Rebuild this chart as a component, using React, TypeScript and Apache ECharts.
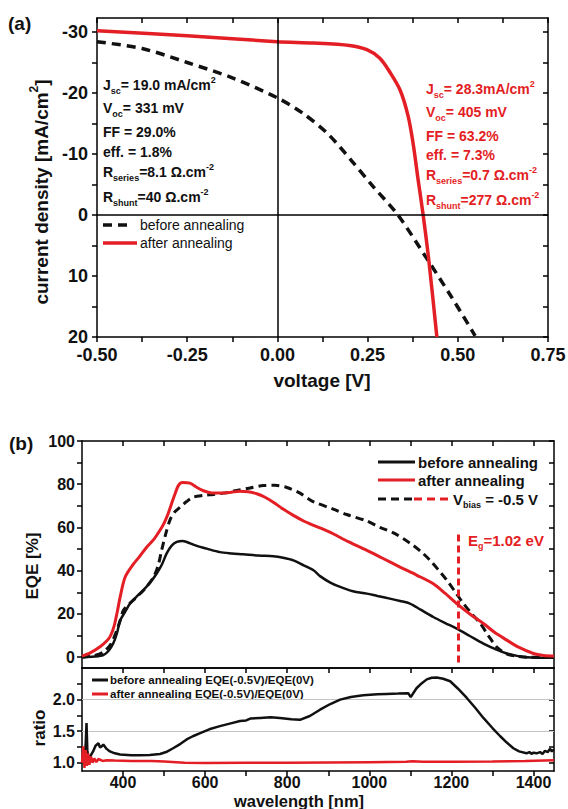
import React, { useEffect, useRef } from 'react';
import * as echarts from 'echarts';

const RED = '#e31e24';
const INK = '#111';
const FONT = "'Liberation Sans', Arial, Helvetica, sans-serif";

// ---- (a) J–V characteristics ----
const jvVoltageBefore = [-0.5, -0.375, -0.25, -0.125, 0, 0.07, 0.14, 0.207, 0.265, 0.334, 0.417, 0.48, 0.548];
const jvCurrentBefore = [-28.4, -27.3, -25.0, -22.5, -19.2, -16.7, -13.3, -8.8, -4.7, 0, 7.4, 13.2, 19.8];
const jvVoltageAfter = [-0.5, -0.25, 0, 0.1, 0.2, 0.248, 0.284, 0.312, 0.34, 0.362, 0.376, 0.39, 0.404, 0.42, 0.442];
const jvCurrentAfter = [-30.2, -29.4, -28.4, -28.2, -27.8, -27.1, -25.7, -23.4, -20.5, -16.3, -11.8, -5.8, 0, 7.6, 20];
const voltageTicks = [-0.5, -0.375, -0.25, -0.125, 0, 0.125, 0.25, 0.375, 0.5, 0.625, 0.75];
const voltageLabels = [-0.5, -0.25, 0, 0.25, 0.5, 0.75];
const currentTicks = [-30, -25, -20, -15, -10, -5, 0, 5, 10, 15, 20];
const currentLabels = [-30, -20, -10, 0, 10, 20];

const statsBefore = [
  '{m|J}{s|sc}{m|= 19.0 mA/cm}{p|2}',
  '{m|V}{s|oc}{m|= 331 mV}',
  '{m|FF = 29.0%}',
  '{m|eff. = 1.8%}',
  '{m|R}{s|series}{m|=8.1 Ω.cm}{p|-2}',
  '{m|R}{s|shunt}{m|=40 Ω.cm}{p|-2}',
];
const statsAfter = [
  '{m|J}{s|sc}{m|= 28.3mA/cm}{p|2}',
  '{m|V}{s|oc}{m|= 405 mV}',
  '{m|FF = 63.2%}',
  '{m|eff. = 7.3%}',
  '{m|R}{s|series}{m|=0.7 Ω.cm}{p|-2}',
  '{m|R}{s|shunt}{m|=277 Ω.cm}{p|-2}',
];
const statsBeforeY = [85, 108, 132, 152, 172, 197];
const statsAfterY = [89, 112, 136, 155, 175, 200];

// ---- (b) EQE spectra ----
const wlBefore = [300, 330, 352, 365, 376, 385, 393, 405, 417, 433, 449, 466, 482, 495, 506, 518, 531, 545, 555, 580, 604, 636, 665, 693, 730, 766, 790, 815, 840, 864, 880, 905, 929, 960, 994, 1020, 1050, 1075, 1099, 1125, 1156, 1185, 1213, 1245, 1278, 1310, 1335, 1360, 1383, 1450];
const eqeBefore = [0, 0.3, 1, 3, 6.3, 11, 17, 21, 24.8, 28, 31, 34.5, 38.7, 43, 47.9, 51.5, 53.3, 53.8, 53.3, 51.5, 50.2, 48.6, 48, 47.6, 47, 46.7, 46, 44.8, 42.5, 40.2, 37.5, 34.5, 32.5, 30.5, 29.4, 28.3, 27.1, 26, 24.8, 22, 18.6, 15.8, 13.2, 9.8, 6.3, 3.5, 1.7, 0.6, 0, -0.3];

const wlAfter = [300, 320, 344, 360, 368, 375, 380, 387, 393, 405, 425, 440, 458, 475, 490, 500, 510, 520, 527, 535, 545, 563, 580, 596, 616, 636, 660, 685, 705, 726, 746, 766, 790, 815, 840, 864, 890, 912, 950, 994, 1030, 1075, 1115, 1156, 1185, 1213, 1245, 1278, 1305, 1335, 1365, 1400, 1425, 1450];
const eqeAfter = [0.5, 2, 4.8, 7.5, 9.4, 12.5, 15.7, 22, 27.9, 37, 43, 46.5, 51, 54.5, 58.7, 62, 66.5, 72, 75.7, 79.5, 80.8, 80.5, 78.5, 77, 76, 75.9, 76.2, 76.8, 76.5, 75.6, 74, 71.7, 68.5, 65.6, 63, 61, 59, 57.1, 53.3, 49.4, 46, 41.7, 38, 34, 29.5, 24.8, 20, 15.6, 11.5, 7.9, 4.5, 1.7, 0.8, 0.5];

const wlBeforeBias = [300, 330, 352, 370, 385, 393, 401, 417, 433, 455, 474, 485, 494, 504, 514, 525, 539, 555, 571, 595, 620, 650, 677, 710, 742, 770, 799, 830, 863, 912, 945, 994, 1026, 1059, 1099, 1125, 1148, 1170, 1189, 1210, 1229, 1250, 1270, 1290, 1311, 1335, 1359, 1390, 1450];
const eqeBeforeBias = [0, 0.8, 2.4, 6, 12.5, 17, 21.7, 25, 27.8, 32, 37, 42, 49.4, 57, 63.3, 67, 69.4, 72, 74, 74.8, 75.3, 76, 77.1, 78.3, 79.4, 79.5, 78.5, 76, 72, 68.5, 66, 63, 60, 57.5, 52.8, 49, 44.8, 40, 35.6, 30, 24.9, 20, 15.7, 10, 4.6, 1.5, 0.5, 0, 0];

const EG_EV = 1.02;
const eqeTicks = [0, 10, 20, 30, 40, 50, 60, 70, 80, 90, 100];
const eqeLabels = [0, 20, 40, 60, 80, 100];

// ---- (b) bias ratio ----
const wlRatioBefore = [300, 305, 309, 311, 313, 316, 320, 327, 333, 340, 344, 348, 352, 360, 368, 380, 393, 420, 441, 465, 490, 505, 522, 540, 555, 570, 588, 610, 636, 660, 685, 700, 710, 734, 760, 782, 810, 831, 855, 880, 905, 929, 955, 985, 1020, 1042, 1070, 1095, 1101, 1107, 1115, 1128, 1140, 1152, 1164, 1180, 1197, 1215, 1237, 1258, 1278, 1300, 1319, 1335, 1351, 1365, 1383, 1390, 1395, 1400, 1408, 1416, 1422, 1428, 1435, 1440, 1445, 1450];
const ratioBefore = [1.0, 1.02, 1.3, 1.63, 1.2, 1.05, 1.1, 1.18, 1.27, 1.31, 1.24, 1.26, 1.29, 1.22, 1.18, 1.15, 1.13, 1.12, 1.12, 1.125, 1.14, 1.17, 1.23, 1.3, 1.37, 1.42, 1.47, 1.53, 1.58, 1.62, 1.66, 1.67, 1.7, 1.71, 1.72, 1.71, 1.69, 1.68, 1.74, 1.84, 1.93, 2.0, 2.04, 2.07, 2.085, 2.09, 2.095, 2.1, 2.04, 2.1, 2.18, 2.26, 2.32, 2.345, 2.35, 2.33, 2.29, 2.18, 2.03, 1.87, 1.71, 1.55, 1.42, 1.32, 1.23, 1.18, 1.15, 1.17, 1.14, 1.16, 1.15, 1.17, 1.14, 1.19, 1.17, 1.22, 1.18, 1.21];
const wlRatioAfter = [300, 303, 306, 309, 312, 315, 318, 322, 326, 330, 335, 340, 350, 361, 380, 420, 470, 500, 550, 600, 700, 800, 900, 1000, 1090, 1105, 1130, 1200, 1300, 1380, 1450];
const ratioAfter = [1.0, 1.26, 0.92, 1.2, 0.95, 1.15, 0.97, 1.1, 1.0, 1.07, 1.01, 1.06, 1.03, 1.04, 1.035, 1.03, 1.03, 1.02, 1.0, 0.995, 1.0, 1.0, 1.005, 1.01, 1.015, 1.025, 1.015, 1.015, 1.02, 1.03, 1.04];
const ratioTicks = [1.0, 1.25, 1.5, 1.75, 2.0, 2.25];
const ratioLabels = [1.0, 1.5, 2.0];
const ratioGuides = [1.5, 2.0];

const wlTicks = [400, 500, 600, 700, 800, 900, 1000, 1100, 1200, 1300, 1400];
const wlLabels = [400, 600, 800, 1000, 1200, 1400];

const zip = (xs: number[], ys: number[]) => xs.map((x, i) => [x, ys[i]]);

const frameLine = { show: true, onZero: false, lineStyle: { color: '#000', width: 1.5 } };
const tickStyle = { color: '#000', width: 1.5 };

function valueAxis(opts: any) {
  const { gridIndex, min, max, position, ticks, labels, tickInside, fontSize, margin, formatter, inverse } = opts;
  return {
    type: 'value',
    gridIndex,
    min,
    max,
    inverse: !!inverse,
    position,
    axisLine: frameLine,
    axisTick: ticks
      ? { show: true, inside: !!tickInside, length: 5, lineStyle: tickStyle, customValues: ticks }
      : { show: false },
    axisLabel: labels
      ? {
          show: true,
          customValues: labels,
          formatter,
          fontSize,
          fontWeight: 'bold',
          fontFamily: FONT,
          color: INK,
          margin,
        }
      : { show: false },
    splitLine: { show: false },
    minorTick: { show: false },
  };
}

function richText(x: number, y: number, text: string, rich: any, fill: string, align = 'left', rotation = 0) {
  return {
    type: 'text',
    x,
    y,
    rotation,
    silent: true,
    style: {
      text,
      rich,
      fill,
      align,
      verticalAlign: 'middle',
      textAlign: align,
      textVerticalAlign: 'middle',
    },
  };
}

function richSet(color: string, size: number, small: number, lineHeight: number, weight = 'bold') {
  return {
    m: { fontSize: size, fontWeight: weight, fontFamily: FONT, lineHeight, fill: color },
    s: { fontSize: small, fontWeight: weight, fontFamily: FONT, lineHeight: small, verticalAlign: 'bottom', fill: color },
    p: { fontSize: small, fontWeight: weight, fontFamily: FONT, lineHeight: small, verticalAlign: 'top', fill: color },
  };
}

function plainText(x: number, y: number, text: string, size: number, color: string, weight = 'bold', align = 'left', rotation = 0) {
  return {
    type: 'text',
    x,
    y,
    rotation,
    silent: true,
    style: {
      text,
      fill: color,
      fontSize: size,
      fontWeight: weight,
      fontFamily: FONT,
      font: `${weight} ${size}px ${FONT}`,
      align,
      verticalAlign: 'middle',
      textAlign: align,
      textVerticalAlign: 'middle',
    },
  };
}

function seg(x1: number, y1: number, x2: number, y2: number, color: string, width: number, dash?: number[]) {
  return {
    type: 'line',
    silent: true,
    shape: { x1, y1, x2, y2 },
    style: { stroke: color, lineWidth: width, lineDash: dash, lineCap: 'butt' },
  };
}

export default function App() {
  const ref = useRef<HTMLDivElement>(null);

  useEffect(() => {
    if (!ref.current) return;
    const chart = echarts.init(ref.current, undefined, { renderer: 'svg' });
    const egNm = 1239.84 / EG_EV;

    const statBlack = richSet(INK, 14, 9, 20);
    const statRed = richSet(RED, 14, 9, 20);

    const graphics: any[] = [
      plainText(8, 23, '(a)', 19, INK),
      plainText(9, 443, '(b)', 19, INK),
      richText(41, 192, '{m|current density [mA/cm}{p|2}{m|]}', richSet(INK, 19, 12, 26), INK, 'center', Math.PI / 2),
      plainText(322, 380, 'voltage [V]', 19, INK, 'bold', 'center'),
      plainText(32, 566, 'EQE [%]', 17, INK, 'bold', 'center', Math.PI / 2),
      plainText(39, 728, 'ratio', 17, INK, 'bold', 'center', Math.PI / 2),
      plainText(299, 801, 'wavelength [nm]', 16.5, INK, 'bold', 'center'),
      // legend of (a)
      seg(103, 225, 128, 225, INK, 3.5, [9, 6]),
      plainText(140, 225, 'before annealing', 14, INK, 'normal'),
      seg(103, 243, 137, 243, RED, 3.5),
      plainText(140, 243, 'after annealing', 14, INK, 'normal'),
      // legend of (b)
      seg(378, 462, 415, 462, INK, 3),
      plainText(418, 462, 'before annealing', 15, INK),
      seg(378, 480, 415, 480, RED, 3),
      plainText(418, 480, 'after annealing', 15, INK),
      seg(378, 499, 413, 499, INK, 3, [8, 5]),
      seg(414, 499, 450, 499, RED, 3, [8, 5]),
      richText(453, 499, '{m|V}{s|bias}{m| = -0.5 V}', richSet(INK, 15, 9, 20), INK),
      richText(468, 540, `{m|E}{s|g}{m|=${EG_EV.toFixed(2)} eV}`, richSet(RED, 15, 9, 20), RED),
      // legend of the ratio panel
      seg(92, 680, 108, 680, INK, 3),
      plainText(110, 680, 'before annealing EQE(-0.5V)/EQE(0V)', 11.5, INK),
      seg(92, 694, 108, 694, RED, 3),
      plainText(110, 694, 'after annealing EQE(-0.5V)/EQE(0V)', 11.5, INK),
    ];
    statsBefore.forEach((t, i) => graphics.push(richText(103, statsBeforeY[i], t, statBlack, INK)));
    statsAfter.forEach((t, i) => graphics.push(richText(426, statsAfterY[i], t, statRed, RED)));

    const wlMin = 300;
    const wlMax = 1450;

    chart.setOption({
      animation: false,
      backgroundColor: '#fff',
      textStyle: { fontFamily: FONT },
      grid: [
        { left: 97, top: 18, width: 451, height: 319, outerBoundsMode: 'none' },
        { left: 82, top: 441, width: 472, height: 227, outerBoundsMode: 'none' },
        { left: 82, top: 668, width: 472, height: 103, outerBoundsMode: 'none' },
      ],
      xAxis: [
        valueAxis({ gridIndex: 0, min: -0.5, max: 0.75, position: 'bottom', ticks: voltageTicks, labels: voltageLabels, fontSize: 18, margin: 9, formatter: (v: number) => Number(v).toFixed(2) }),
        valueAxis({ gridIndex: 0, min: -0.5, max: 0.75, position: 'top', ticks: voltageTicks, tickInside: true }),
        valueAxis({ gridIndex: 1, min: wlMin, max: wlMax, position: 'bottom' }),
        valueAxis({ gridIndex: 1, min: wlMin, max: wlMax, position: 'top', ticks: wlTicks, tickInside: true }),
        valueAxis({ gridIndex: 2, min: wlMin, max: wlMax, position: 'bottom', ticks: wlTicks, labels: wlLabels, fontSize: 16, margin: 3, formatter: (v: number) => String(v) }),
        valueAxis({ gridIndex: 2, min: wlMin, max: wlMax, position: 'top', ticks: wlTicks, tickInside: true }),
      ],
      yAxis: [
        valueAxis({ gridIndex: 0, min: -32.3, max: 20, inverse: true, position: 'left', ticks: currentTicks, labels: currentLabels, fontSize: 18, margin: 9, formatter: (v: number) => String(v) }),
        valueAxis({ gridIndex: 0, min: -32.3, max: 20, inverse: true, position: 'right', ticks: currentTicks, tickInside: true }),
        valueAxis({ gridIndex: 1, min: -5, max: 100, position: 'left', ticks: eqeTicks, labels: eqeLabels, fontSize: 16, margin: 7, formatter: (v: number) => String(v) }),
        valueAxis({ gridIndex: 1, min: -5, max: 100, position: 'right', ticks: eqeTicks, tickInside: true }),
        valueAxis({ gridIndex: 2, min: 0.87, max: 2.5, position: 'left', ticks: ratioTicks, labels: ratioLabels, fontSize: 16, margin: 7, formatter: (v: number) => Number(v).toFixed(1) }),
        valueAxis({ gridIndex: 2, min: 0.87, max: 2.5, position: 'right', ticks: ratioTicks, tickInside: true }),
      ],
      series: [
        {
          name: 'before annealing',
          type: 'line',
          xAxisIndex: 0,
          yAxisIndex: 0,
          data: zip(jvVoltageBefore, jvCurrentBefore),
          showSymbol: false,
          symbol: 'none',
          smooth: 0.3,
          lineStyle: { color: INK, width: 3.5, type: [9, 6], cap: 'butt' },
          markLine: {
            silent: true,
            symbol: ['none', 'none'],
            label: { show: false },
            lineStyle: { color: '#000', width: 1.5, type: 'solid' },
            data: [{ xAxis: 0 }, { yAxis: 0 }],
          },
          z: 3,
        },
        {
          name: 'after annealing',
          type: 'line',
          xAxisIndex: 0,
          yAxisIndex: 0,
          data: zip(jvVoltageAfter, jvCurrentAfter),
          showSymbol: false,
          symbol: 'none',
          smooth: 0.3,
          lineStyle: { color: RED, width: 3.5 },
          z: 4,
        },
        {
          name: 'EQE before annealing, -0.5 V',
          type: 'line',
          xAxisIndex: 2,
          yAxisIndex: 2,
          data: zip(wlBeforeBias, eqeBeforeBias),
          showSymbol: false,
          symbol: 'none',
          smooth: 0.3,
          lineStyle: { color: INK, width: 3, type: [8, 5] },
          z: 3,
        },
        {
          name: 'EQE before annealing',
          type: 'line',
          xAxisIndex: 2,
          yAxisIndex: 2,
          data: zip(wlBefore, eqeBefore),
          showSymbol: false,
          symbol: 'none',
          smooth: 0.3,
          lineStyle: { color: INK, width: 2.5 },
          z: 3,
        },
        {
          name: 'EQE after annealing',
          type: 'line',
          xAxisIndex: 2,
          yAxisIndex: 2,
          data: zip(wlAfter, eqeAfter),
          showSymbol: false,
          symbol: 'none',
          smooth: 0.3,
          lineStyle: { color: RED, width: 3 },
          markLine: {
            silent: true,
            symbol: ['none', 'none'],
            label: { show: false },
            lineStyle: { color: RED, width: 3, type: [7, 4] },
            data: [[{ coord: [egNm, -2.5] }, { coord: [egNm, 58.5] }]],
          },
          z: 4,
        },
        {
          name: 'ratio before annealing',
          type: 'line',
          xAxisIndex: 4,
          yAxisIndex: 4,
          data: zip(wlRatioBefore, ratioBefore),
          showSymbol: false,
          symbol: 'none',
          lineStyle: { color: INK, width: 2.5 },
          markLine: {
            silent: true,
            symbol: ['none', 'none'],
            label: { show: false },
            lineStyle: { color: '#c4c4c4', width: 1, type: 'solid' },
            data: ratioGuides.map((v) => ({ yAxis: v })),
            z: 1,
          },
          z: 3,
        },
        {
          name: 'ratio after annealing',
          type: 'line',
          xAxisIndex: 4,
          yAxisIndex: 4,
          data: zip(wlRatioAfter, ratioAfter),
          showSymbol: false,
          symbol: 'none',
          lineStyle: { color: RED, width: 2.5 },
          z: 4,
        },
      ],
      graphic: graphics,
    });

    return () => chart.dispose();
  }, []);

  return (
    <div
      ref={ref}
      style={{ position: 'absolute', left: 0, top: 0, width: 568, height: 809, background: '#fff' }}
    />
  );
}
